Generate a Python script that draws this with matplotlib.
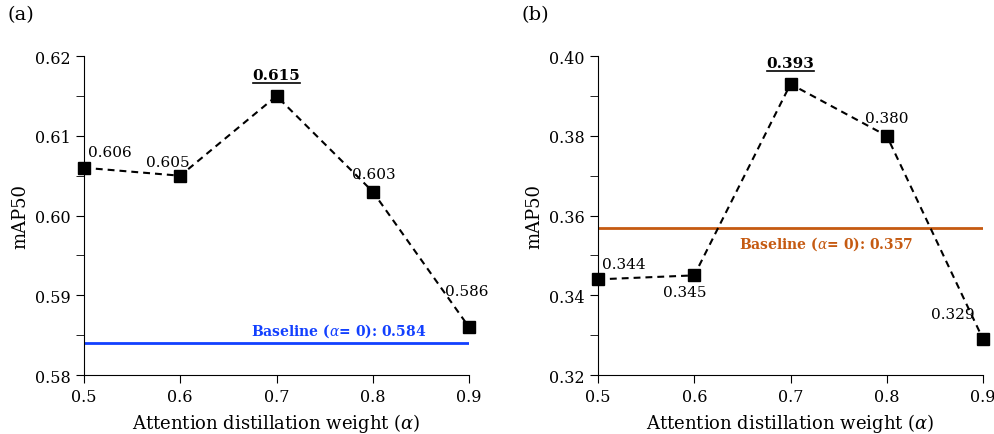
import numpy as np
from matplotlib import pyplot as plt
from matplotlib.lines import Line2D
from matplotlib.ticker import MultipleLocator

plt.rcParams['font.family'] = 'DejaVu Serif'
plt.rcParams['mathtext.fontset'] = 'dejavuserif'

weights = [0.5, 0.6, 0.7, 0.8, 0.9]
map_a = [0.606, 0.605, 0.615, 0.603, 0.586]
map_b = [0.344, 0.345, 0.393, 0.380, 0.329]
baseline_a = 0.584
baseline_b = 0.357

fig = plt.figure(figsize=(9.95, 4.35), dpi=100)
ax_a = fig.add_axes([0.0844, 0.1356, 0.387, 0.733])
ax_b = fig.add_axes([0.601, 0.1356, 0.387, 0.733])

# label offsets in points (dx, dy, ha, va)
offs_a = [(3, 6, 'left', 'bottom'), (-9, 5, 'center', 'bottom'), (0, 10, 'center', 'bottom'),
          (1, 8, 'center', 'bottom'), (-2, 21, 'center', 'bottom')]
offs_b = [(3, 6, 'left', 'bottom'), (-7, -7, 'center', 'top'), (0, 10, 'center', 'bottom'),
          (0, 8, 'center', 'bottom'), (-6, 18, 'right', 'center')]

underlines = []


def draw_panel(ax, vals, base, base_color, ylim, ystep, offs, base_x, base_text_above):
    ax.plot(weights, vals, color='black', ls=(0, (3.3, 2.4)), lw=1.5, marker='s', ms=9,
            zorder=3, clip_on=False)
    ax.axhline(base, xmin=0, xmax=1, color=base_color, lw=2, zorder=2)
    best = int(np.argmax(vals))
    for i, (x, v) in enumerate(zip(weights, vals)):
        dx, dy, ha, va = offs[i]
        t = ax.annotate(f'{v:.3f}', (x, v), xytext=(dx, dy), textcoords='offset points',
                        ha=ha, va=va, fontsize=11,
                        fontweight='bold' if i == best else 'normal')
        if i == best:
            underlines.append(t)
    label = f'Baseline ($\\alpha$= 0): {base:.3f}'
    if base_text_above:
        ax.annotate(label, (base_x, base), xytext=(0, 3), textcoords='offset points',
                    ha='center', va='bottom', color=base_color, fontsize=10, fontweight='bold')
    else:
        ax.annotate(label, (base_x, base), xytext=(0, -5), textcoords='offset points',
                    ha='center', va='top', color=base_color, fontsize=10, fontweight='bold')
    ax.set_xlim(0.5, 0.9)
    ax.set_ylim(*ylim)
    ax.set_xticks(weights)
    ax.set_xticklabels([f'{w:.1f}' for w in weights])
    ax.yaxis.set_major_locator(MultipleLocator(ystep))
    ax.yaxis.set_minor_locator(MultipleLocator(ystep / 2))
    ax.yaxis.set_major_formatter(plt.FormatStrFormatter('%.2f'))
    ax.tick_params(axis='both', which='both', direction='out', labelsize=11.5)
    ax.tick_params(axis='both', which='major', length=6)
    ax.tick_params(axis='y', which='minor', length=6)
    ax.spines['top'].set_visible(False)
    ax.spines['right'].set_visible(False)
    ax.set_xlabel('Attention distillation weight ($\\alpha$)', fontsize=13)
    ax.set_ylabel('mAP50', fontsize=13, labelpad=4)


draw_panel(ax_a, map_a, baseline_a, '#1240ff', (0.58, 0.62), 0.01, offs_a, 0.765, True)
draw_panel(ax_b, map_b, baseline_b, '#c55a11', (0.32, 0.40), 0.02, offs_b, 0.737, False)
fig.text(0.008, 0.985, '(a)', fontsize=14, va='top', ha='left')
fig.text(0.524, 0.985, '(b)', fontsize=14, va='top', ha='left')

# underline the best values
fig.canvas.draw()
renderer = fig.canvas.get_renderer()
inv = fig.transFigure.inverted()
for t in underlines:
    bb = t.get_window_extent(renderer)
    (x0, y0), (x1, _) = inv.transform([[bb.x0, bb.y0 - 1], [bb.x1, bb.y0]])
    fig.add_artist(Line2D([x0, x1], [y0, y0], color='black', lw=1.2, transform=fig.transFigure))

fig.savefig('out.png', dpi=100)
